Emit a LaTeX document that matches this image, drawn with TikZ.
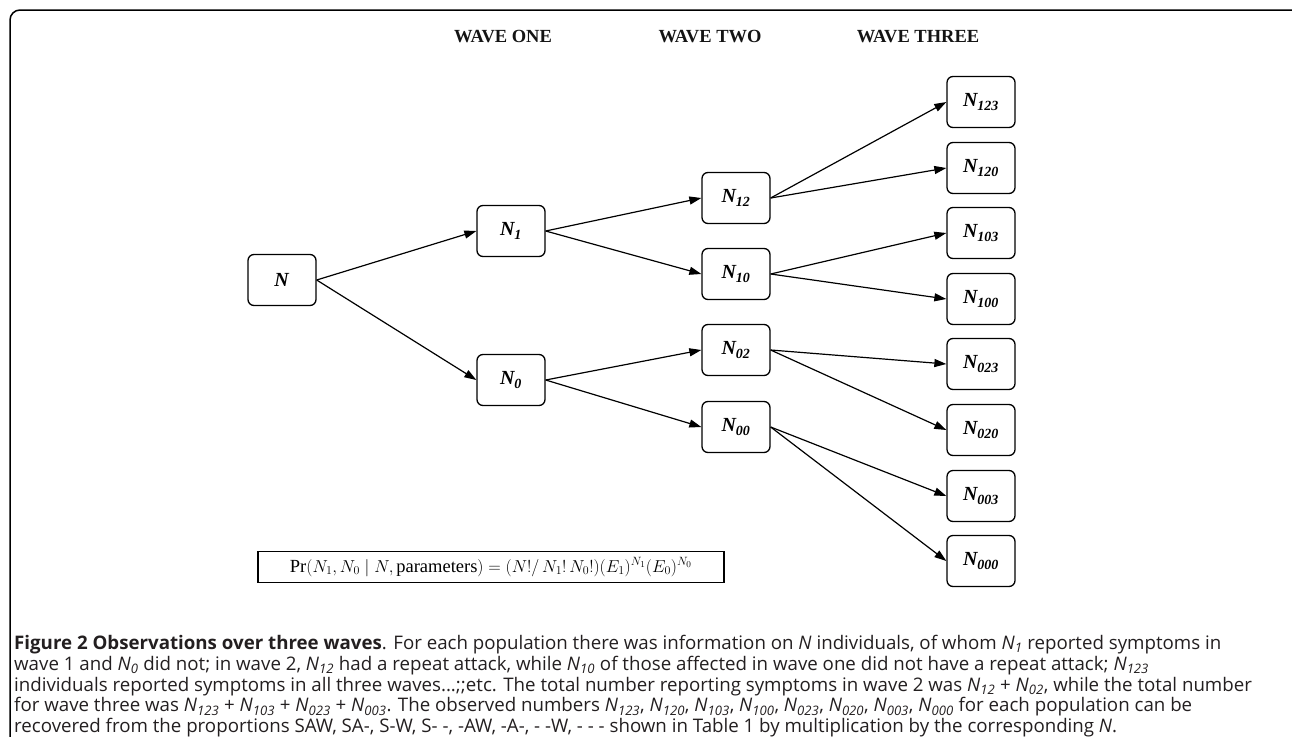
\documentclass[tikz,border=0pt]{standalone}
\usepackage{fontspec}
\setmainfont{Liberation Serif}
\newfontfamily\capfont{Open Sans}
\usepackage{amsmath}
\usetikzlibrary{arrows.meta,positioning}
\definecolor{inkblack}{RGB}{20,20,20}
\definecolor{captiongray}{RGB}{35,31,32}
\newcommand{\wn}[1]{\textbf{\textit{N\textsubscript{#1}}}}
\newcommand{\cn}[1]{\textit{N}\textsubscript{\textit{#1}}}

\begin{document}
\begin{tikzpicture}[x=1pt, y=-1pt, every node/.style={font=\fontsize{20}{24}\selectfont}]
    \tikzset{
        wavebox/.style={draw, line width=1.3pt, rounded corners=6pt, minimum width=68pt, minimum height=51pt, inner sep=0pt},
        wavehead/.style={font=\fontsize{18.5}{21}\selectfont\bfseries, color=inkblack},
        flow/.style={-{Triangle[length=12pt, width=8pt]}, line width=1.2pt}
    }
    \useasboundingbox (0,0) rectangle (1292,736);
    % outer frame, cut by the page
    \draw[line width=1.5pt, rounded corners=10pt] (10,10) rectangle (1302,746);

    % headings
    \node[wavehead] (w1) at (503,37) {WAVE ONE};
    \node[wavehead] (w2) at (710,37) {WAVE TWO};
    \node[wavehead] (w3) at (918,37) {WAVE THREE};

    % the tree
    \node[wavebox] (n) at (282,280) {\textbf{\textit{N}}};
    \node[wavebox] (n1) at (511,231) {\wn{1}};
    \node[wavebox] (n0) at (511,380) {\wn{0}};
    \node[wavebox] (n12) at (736,198) {\wn{12}};
    \node[wavebox] (n10) at (736,274) {\wn{10}};
    \node[wavebox] (n02) at (736,350) {\wn{02}};
    \node[wavebox] (n00) at (736,427) {\wn{00}};
    \node[wavebox] (n123) at (981,102) {\wn{123}};
    \node[wavebox] (n120) at (981,168) {\wn{120}};
    \node[wavebox] (n103) at (981,233) {\wn{103}};
    \node[wavebox] (n100) at (981,299) {\wn{100}};
    \node[wavebox] (n023) at (981,364) {\wn{023}};
    \node[wavebox] (n020) at (981,430) {\wn{020}};
    \node[wavebox] (n003) at (981,496) {\wn{003}};
    \node[wavebox] (n000) at (981,561) {\wn{000}};

    \draw[flow] (n.east) -- (n1.west);
    \draw[flow] (n.east) -- (n0.west);
    \draw[flow] (n1.east) -- (n12.west);
    \draw[flow] (n1.east) -- (n10.west);
    \draw[flow] (n0.east) -- (n02.west);
    \draw[flow] (n0.east) -- (n00.west);
    \draw[flow] (n12.east) -- (n123.west);
    \draw[flow] (n12.east) -- (n120.west);
    \draw[flow] (n10.east) -- (n103.west);
    \draw[flow] (n10.east) -- (n100.west);
    \draw[flow] (n02.east) -- (n023.west);
    \draw[flow] (n02.east) -- (n020.west);
    \draw[flow] (n00.east) -- (n003.west);
    \draw[flow] (n00.east) -- (n000.west);

    % likelihood
    \node[draw, line width=1.2pt, minimum width=466pt, minimum height=31pt, inner sep=0pt,
          font=\fontsize{18.5}{21}\selectfont] (prob) at (491,567)
        {$\mathrm{Pr}(N_1, N_0 \mid N, \mathrm{parameters}) = (N!/\,N_1!\,N_0!)(E_1)^{N_1}(E_0)^{N_0}$};

    % caption
    \node[anchor=north west, inner sep=0pt, align=left, color=captiongray,
          font=\capfont\fontsize{18.7}{20.8}\selectfont] (cap) at (14,635)
        {\textbf{Figure 2 Observations over three waves}. For each population there was information on \textit{N} individuals, of whom \cn{1} reported symptoms in\\
         wave 1 and \cn{0} did not; in wave 2, \cn{12} had a repeat attack, while \cn{10} of those affected in wave one did not have a repeat attack; \cn{123}\\
         individuals reported symptoms in all three waves...;;etc. The total number reporting symptoms in wave 2 was \cn{12} + \cn{02}, while the total number\\
         for wave three was \cn{123} + \cn{103} + \cn{023} + \cn{003}. The observed numbers \cn{123}, \cn{120}, \cn{103}, \cn{100}, \cn{023}, \cn{020}, \cn{003}, \cn{000} for each population can be\\
         recovered from the proportions SAW, SA-, S-W, S- -, -AW, -A-, - -W, - - - shown in Table 1 by multiplication by the corresponding \textit{N}.};
\end{tikzpicture}
\end{document}
